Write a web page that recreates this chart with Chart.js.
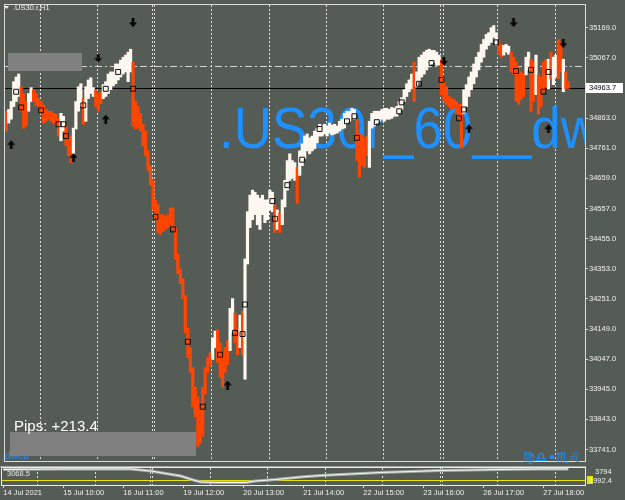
<!DOCTYPE html>
<html>
<head>
<meta charset="utf-8">
<script src="https://cdn.jsdelivr.net/npm/chart.js@4.4.1/dist/chart.umd.min.js"></script>
<style>
body{margin:0;background:#555c55;}
#wrap{position:relative;width:625px;height:500px;background:#555c55;overflow:hidden}
canvas{position:absolute;left:0}
#mainChart{top:0px}
#subChart{top:466px}
</style>
</head>
<body>
<div id="wrap">
<canvas id="mainChart" width="625" height="466"></canvas>
<canvas id="subChart" width="625" height="34"></canvas>
</div>
<script>
// H1 bars, index 0 = first visible bar
const opens = [
  34886, 34846, 34859, 34902, 34919, 34936, 34969, 34946, 34919, 34886,
  34919, 34959, 34946, 34929, 34919, 34906, 34892, 34886, 34886, 34879,
  34876, 34862, 34786, 34819, 34836, 34809, 34802, 34742, 34826, 34886,
  34902, 34929, 34852, 34929, 34946, 34936, 34959, 34946, 34952, 34929,
  34936, 34946, 34959, 34972, 34979, 34992, 35002, 35012, 35019, 34986,
  35019, 35052, 34919, 34902, 34879, 34842, 34819, 34752, 34702, 34652,
  34586, 34569, 34536, 34536, 34529, 34536, 34559, 34559, 34492, 34402,
  34352, 34319, 34262, 34152, 34086, 34019, 33952, 33919, 33886, 33952,
  34019, 34052, 34069, 34046, 34086, 34146, 34102, 34069, 34086, 34109,
  34076, 34136, 34202, 34152, 34086, 34209, 33979, 34369, 34492, 34519,
  34536, 34502, 34486, 34536, 34509, 34519, 34552, 34546, 34569, 34486,
  34542, 34502, 34562, 34619, 34652, 34659, 34652, 34696, 34669, 34702,
  34726, 34752, 34742, 34752, 34759, 34779, 34802, 34802, 34809, 34802,
  34812, 34806, 34809, 34812, 34819, 34826, 34829, 34846, 34852, 34862,
  34859, 34859, 34809, 34802, 34796, 34802, 34696, 34829, 34836, 34846,
  34852, 34859, 34852, 34859, 34859, 34862, 34869, 34869, 34879, 34892,
  34919, 34936, 34952, 34962, 35052, 34969, 34986, 35002, 35012, 35026,
  35036, 35046, 35052, 35042, 35042, 35059, 34986, 34969, 34936, 34929,
  34926, 34919, 34909, 34909, 34879, 34902, 34936, 34959, 34979, 35002,
  35026, 35052, 35069, 35096, 35109, 35119, 35136, 35109, 35126, 35112,
  35076, 35086, 35079, 35086, 35069, 35052, 35036, 35019, 35012, 35009,
  35026, 35062, 35052, 34942, 35009, 35002, 35052, 35062, 34962, 35086,
  34976, 35002, 35129, 35119, 34952, 35019, 34986
]
const closes = [
  34819, 34892, 34919, 34986, 35002, 35012, 34886, 34829, 34836, 34946,
  34966, 34919, 34906, 34899, 34879, 34846, 34852, 34859, 34852, 34846,
  34839, 34802, 34879, 34869, 34769, 34736, 34712, 34829, 34919, 34969,
  34979, 34842, 34969, 34992, 34999, 34966, 34902, 34886, 34912, 34976,
  34986, 35012, 35019, 35019, 35046, 35046, 35059, 35069, 35076, 35086,
  35096, 34836, 34826, 34829, 34819, 34769, 34736, 34686, 34636, 34552,
  34519, 34476, 34469, 34479, 34486, 34492, 34502, 34486, 34386, 34336,
  34302, 34252, 34136, 34052, 34002, 33886, 33852, 33752, 33762, 33786,
  33929, 34002, 34026, 34119, 34142, 34036, 33986, 33952, 34002, 34029,
  34219, 34252, 34102, 34062, 34196, 34062, 34386, 34546, 34602, 34619,
  34612, 34602, 34592, 34602, 34586, 34586, 34619, 34612, 34476, 34552,
  34476, 34586, 34652, 34719, 34742, 34719, 34712, 34576, 34752, 34776,
  34802, 34809, 34796, 34802, 34819, 34829, 34842, 34836, 34842, 34836,
  34846, 34839, 34842, 34836, 34852, 34859, 34879, 34886, 34886, 34896,
  34892, 34719, 34662, 34702, 34696, 34736, 34852, 34879, 34886, 34886,
  34886, 34892, 34896, 34896, 34892, 34899, 34896, 34902, 34919, 34932,
  34959, 34979, 34992, 35012, 34919, 35019, 35069, 35076, 35086, 35092,
  35096, 35092, 35092, 35086, 35076, 34942, 34919, 34909, 34902, 34892,
  34899, 34879, 34862, 34762, 34959, 34976, 35002, 35019, 35046, 35069,
  35086, 35112, 35129, 35146, 35152, 35169, 35176, 35152, 35079, 35069,
  35109, 35112, 35106, 35019, 35012, 34919, 34909, 34926, 34936, 35069,
  35086, 34886, 34919, 35076, 34876, 34902, 34952, 34969, 35062, 34996,
  35069, 35076, 34996, 35019, 35062, 34962, 34963.7
]

const priceTicks = [33741, 33843, 33945, 34047, 34149, 34251, 34353, 34455, 34557, 34659, 34761, 34863, 35067, 35169]
const labelBars = [0, 24, 48, 72, 96, 120, 144, 168, 192, 216]
const labelTexts = ['14 Jul 2021', '15 Jul 10:00', '16 Jul 11:00', '19 Jul 12:00', '20 Jul 13:00',
  '21 Jul 14:00', '22 Jul 15:00', '23 Jul 16:00', '26 Jul 17:00', '27 Jul 18:00']
// period separators (day starts), in bar units
const separatorBars = [13.5, 36.5, 58.5, 59.5, 82.5, 105.5, 128.5, 151.5, 174.5, 175.5, 197.5, 220.5]

const squareBars = [4, 6, 14, 21, 23, 24, 31, 40, 45, 51, 60, 67, 73, 79, 86, 92, 95, 96, 107, 108,
  113, 119, 126, 137, 140, 141, 149, 158, 159, 166, 171, 175, 182, 184, 197, 205, 211, 216, 218]
const squarePrices = [34952, 34899, 34889, 34842, 34842, 34802, 34906, 34962, 35019, 34962,
  34529, 34486, 34106, 33886, 34062, 34136, 34132, 34232, 34582, 34522,
  34636, 34722, 34826, 34852, 34869, 34796, 34849, 34886, 34916, 34979,
  35049, 34992, 34862, 34892, 35119, 35022, 35026, 34952, 35019]
const upBars = [2, 27, 40, 89, 186, 218]
const upPrices = [34772, 34729, 34859, 33959, 34826, 34826]
const downBars = [37, 51, 176, 204, 224]
const downPrices = [35066, 35186, 35056, 35186, 35116]

const bidPrice = 34963.7
const levelPrice = 35039

// indicator window
const subBars = [0, 23, 51, 59, 65, 71, 76, 79, 85, 97, 101, 109, 119, 127, 139, 151, 163, 175, 187, 199, 215, 226]
const subValues = [4394, 4514, 4514, 4034, 3434, 2834, 1874, 1394, 1274, 1274, 1634, 1994, 2594, 2954, 3314, 3674, 3914, 4154, 4274, 4394, 4514, 4514]
const subLevel = 1992.4
const subTicks = [3794]

const FONT = 'Liberation Sans'
const textColor = '#f0f0f0'
const xMin = -0.5
const xMax = 232.7

function noPad(scale){
  scale.paddingTop = 0
  scale.paddingBottom = 0
  scale.paddingLeft = 0
  scale.paddingRight = 0
}

function drawSeparators(chart){
  const {ctx, chartArea, scales} = chart
  ctx.save()
  ctx.strokeStyle = '#dedede'
  ctx.lineWidth = 1
  ctx.setLineDash([2, 2])
  for (const b of separatorBars) {
    const x = Math.round(scales.x.getPixelForValue(b)) + 0.5
    ctx.beginPath()
    ctx.moveTo(x, chartArea.top)
    ctx.lineTo(x, chartArea.bottom)
    ctx.stroke()
  }
  ctx.restore()
}

function arrowImage(){
  const c = document.createElement('canvas')
  c.width = 8
  c.height = 9
  const g = c.getContext('2d')
  g.fillStyle = '#000'
  g.beginPath()
  g.moveTo(4, 0)
  g.lineTo(8, 4.5)
  g.lineTo(5.3, 4.5)
  g.lineTo(5.3, 9)
  g.lineTo(2.7, 9)
  g.lineTo(2.7, 4.5)
  g.lineTo(0, 4.5)
  g.closePath()
  g.fill()
  return c
}
const arrow = arrowImage()

const mainDecor = {
  id: 'mainDecor',
  beforeDatasetsDraw(chart){
    const {ctx, chartArea: a, scales} = chart
    drawSeparators(chart)

    // watermark
    ctx.save()
    ctx.beginPath()
    ctx.rect(a.left, a.top, a.right - a.left, a.bottom - a.top)
    ctx.clip()
    ctx.fillStyle = '#1e90ff'
    ctx.font = '53px "' + FONT + '"'
    ctx.textBaseline = 'alphabetic'
    ctx.translate(219, 148)
    ctx.scale(1, 1.07)
    ctx.fillText('.US30r_60__dw', 0, 0)
    ctx.restore()

    // horizontal line object (dash-dot)
    ctx.save()
    let y = Math.round(scales.y.getPixelForValue(levelPrice)) + 0.5
    ctx.strokeStyle = '#d2d2d2'
    ctx.lineWidth = 1
    ctx.setLineDash([7, 3, 2, 3])
    ctx.beginPath()
    ctx.moveTo(a.left, y)
    ctx.lineTo(a.right, y)
    ctx.stroke()
    // bid line
    y = Math.round(scales.y.getPixelForValue(bidPrice)) + 0.5
    ctx.setLineDash([])
    ctx.strokeStyle = '#000'
    ctx.beginPath()
    ctx.moveTo(a.left, y)
    ctx.lineTo(a.right, y)
    ctx.stroke()
    ctx.restore()
  },
  afterDraw(chart){
    const {ctx, chartArea: a, scales} = chart
    ctx.save()
    // frame
    ctx.strokeStyle = '#dcdcdc'
    ctx.lineWidth = 1
    ctx.strokeRect(a.left - 0.5, a.top - 0.5, a.right - a.left + 1, a.bottom - a.top + 1)

    ctx.fillStyle = '#1e90ff'
    ctx.font = '10px "' + FONT + '"'
    ctx.textBaseline = 'alphabetic'
    ctx.fillText('dweb', 5, 459)

    ctx.fillStyle = '#808080'
    ctx.fillRect(8, 53, 74, 18)
    ctx.fillRect(10, 432, 186, 24)

    ctx.fillStyle = '#ffffff'
    ctx.font = '15px "' + FONT + '"'
    ctx.fillText('Pips: +213.4', 14, 431)

    ctx.fillStyle = '#1e90ff'
    ctx.font = '14px "DejaVu Sans"'
    ctx.textAlign = 'right'
    ctx.fillText('♍♎•♏♌', 581, 462)
    ctx.textAlign = 'left'

    // title
    ctx.fillStyle = '#f4f4f4'
    ctx.beginPath()
    ctx.moveTo(4, 6)
    ctx.lineTo(9, 6)
    ctx.lineTo(6.5, 9)
    ctx.closePath()
    ctx.fill()
    ctx.font = '7.5px "' + FONT + '"'
    ctx.textBaseline = 'middle'
    ctx.fillText('.US30.r,H1', 13, 8)

    // bid price box
    const y = scales.y.getPixelForValue(bidPrice)
    ctx.fillStyle = '#ffffff'
    ctx.fillRect(586, Math.round(y) - 5, 37, 10)
    ctx.fillStyle = '#000'
    ctx.fillText(bidPrice.toFixed(1), 589, y)
    ctx.restore()
  }
}

const barColors = opens.map((o, i) => closes[i] >= o ? '#fff8f0' : '#ff4500')

const mainChart = new Chart(document.getElementById('mainChart'), {
  type: 'bar',
  data: {
    datasets: [
      {
        type: 'scatter',
        data: squareBars.map((b, i) => ({x: b, y: squarePrices[i]})),
        pointStyle: 'rect',
        pointRadius: 3.5,
        borderColor: '#111',
        borderWidth: 1,
        backgroundColor: 'rgba(0,0,0,0)',
        order: 1
      },
      {
        type: 'scatter',
        data: upBars.map((b, i) => ({x: b, y: upPrices[i]})),
        pointStyle: arrow,
        order: 1
      },
      {
        type: 'scatter',
        data: downBars.map((b, i) => ({x: b, y: downPrices[i]})),
        pointStyle: arrow,
        rotation: 180,
        order: 1
      },
      {
        data: opens.map((o, i) => ({x: i, y: [o, closes[i]]})),
        backgroundColor: barColors,
        borderWidth: 0,
        barThickness: 2.5,
        minBarLength: 1,
        order: 3
      }
    ]
  },
  options: {
    responsive: false,
    animation: false,
    devicePixelRatio: 1,
    events: [],
    layout: {padding: {left: 2, top: 2, right: 0, bottom: 1}},
    plugins: {legend: {display: false}, tooltip: {enabled: false}},
    scales: {
      x: {
        type: 'linear',
        display: false,
        offset: false,
        grid: {offset: false},
        min: xMin,
        max: xMax
      },
      y: {
        type: 'linear',
        position: 'right',
        min: 33702.3,
        max: 35245.6,
        afterBuildTicks: s => { s.ticks = priceTicks.map(v => ({value: v})) },
        afterFit: s => { s.width = 40; noPad(s) },
        border: {display: false},
        grid: {drawOnChartArea: false, drawTicks: true, tickLength: 3, color: '#d8d8d8'},
        ticks: {
          padding: 1,
          color: textColor,
          font: {family: FONT, size: 7.5},
          callback: v => v.toFixed(1)
        }
      }
    }
  },
  plugins: [mainDecor]
})

const subDecor = {
  id: 'subDecor',
  beforeDatasetsDraw(chart){
    const {ctx, chartArea: a, scales} = chart
    drawSeparators(chart)
    const y = Math.round(scales.y.getPixelForValue(subLevel)) + 0.5
    ctx.save()
    ctx.strokeStyle = '#e6e600'
    ctx.lineWidth = 1
    ctx.beginPath()
    ctx.moveTo(a.left, y)
    ctx.lineTo(a.right, y)
    ctx.stroke()
    ctx.restore()
  },
  afterDraw(chart){
    const {ctx, chartArea: a, scales} = chart
    ctx.save()
    ctx.fillStyle = '#a3a8a3'
    ctx.fillRect(0, 0, 586, 1)
    ctx.strokeStyle = '#ececec'
    ctx.lineWidth = 1
    ctx.strokeRect(a.left - 0.5, a.top - 0.5, a.right - a.left + 1, a.bottom - a.top + 1)

    ctx.fillStyle = '#e8e8e8'
    ctx.font = '7.5px "' + FONT + '"'
    ctx.textBaseline = 'middle'
    ctx.fillText('3068.5', 7, 8)

    const y = scales.y.getPixelForValue(subLevel)
    ctx.fillStyle = '#e6e600'
    ctx.fillRect(587, Math.round(y) - 4, 6, 8)
    ctx.fillStyle = '#f0f0f0'
    ctx.fillText(subLevel.toFixed(1), 589, y + 1)
    ctx.restore()
  }
}

const subPoints = subBars.map((b, i) => ({x: b, y: subValues[i]}))

const subChart = new Chart(document.getElementById('subChart'), {
  type: 'line',
  data: {
    datasets: [
      {data: subPoints, borderColor: '#f6f6f6', borderWidth: 1, pointRadius: 0, tension: 0, order: 1},
      {data: subPoints, borderColor: '#a4a9a4', borderWidth: 3, pointRadius: 0, tension: 0, order: 2}
    ]
  },
  options: {
    responsive: false,
    animation: false,
    devicePixelRatio: 1,
    events: [],
    layout: {padding: {left: 2, top: 2, right: 0, bottom: 0}},
    plugins: {legend: {display: false}, tooltip: {enabled: false}},
    scales: {
      x: {
        type: 'linear',
        position: 'bottom',
        offset: false,
        min: xMin,
        max: xMax,
        afterBuildTicks: s => { s.ticks = labelBars.map(v => ({value: v})) },
        afterFit: s => { s.height = 15; noPad(s) },
        border: {display: false},
        grid: {drawOnChartArea: false, drawTicks: true, tickLength: 3, color: '#d8d8d8'},
        ticks: {
          align: 'start',
          autoSkip: false,
          maxRotation: 0,
          padding: 0,
          color: textColor,
          font: {family: FONT, size: 7.5},
          callback: v => labelTexts[labelBars.indexOf(v)]
        }
      },
      y: {
        type: 'linear',
        position: 'right',
        min: 672,
        max: 4755,
        afterBuildTicks: s => { s.ticks = subTicks.map(v => ({value: v})) },
        afterFit: s => { s.width = 40; noPad(s) },
        border: {display: false},
        grid: {display: false},
        ticks: {
          padding: 2,
          color: textColor,
          font: {family: FONT, size: 7.5},
          callback: v => String(v)
        }
      }
    }
  },
  plugins: [subDecor]
})
</script>
</body>
</html>
